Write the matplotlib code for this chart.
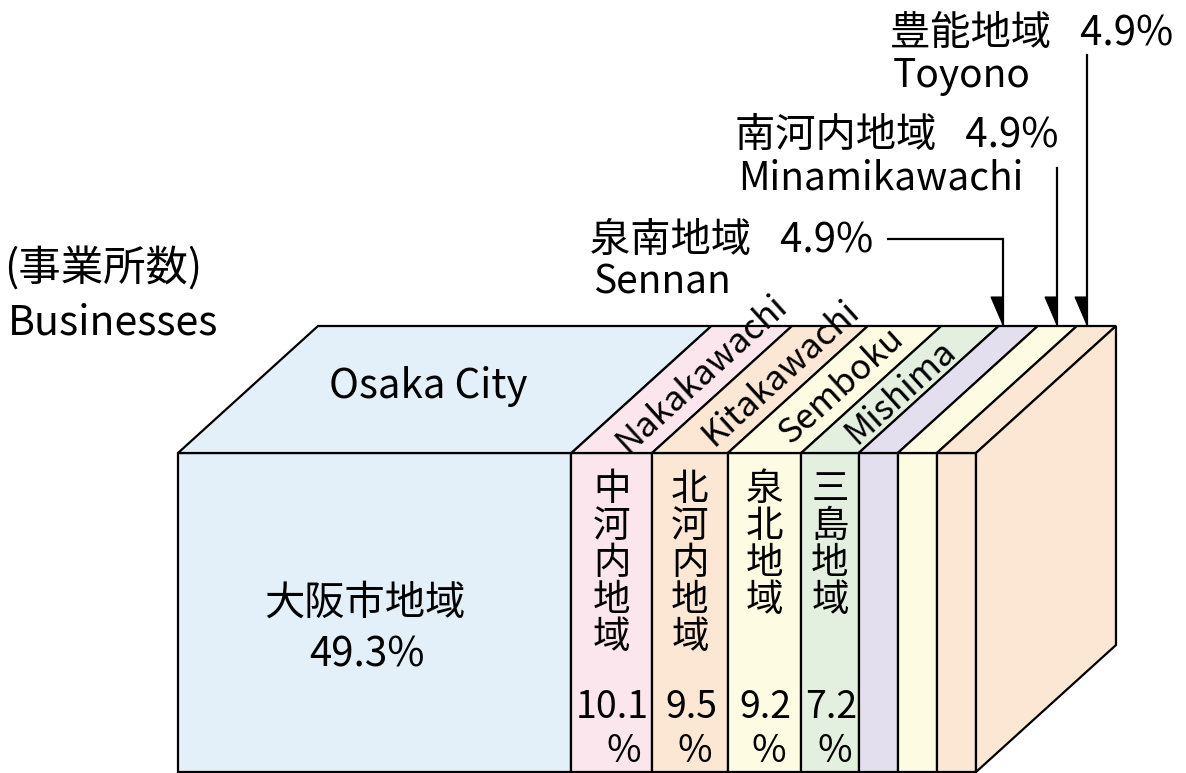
import matplotlib
matplotlib.use('Agg')
import matplotlib.pyplot as plt
from matplotlib.patches import Polygon
import numpy as np

plt.rcParams['font.family'] = ['Noto Sans CJK JP', 'DejaVu Sans']

# ---- data ----
regions_ja = ['大阪市地域', '中河内地域', '北河内地域', '泉北地域', '三島地域',
              '泉南地域', '南河内地域', '豊能地域']
regions_en = ['Osaka City', 'Nakakawachi', 'Kitakawachi', 'Semboku', 'Mishima',
              'Sennan', 'Minamikawachi', 'Toyono']
shares = [49.3, 10.1, 9.5, 9.2, 7.2, 4.9, 4.9, 4.9]
share_labels = ['49.3%', '10.1\n%', '9.5\n%', '9.2\n%', '7.2\n%', '4.9%', '4.9%', '4.9%']
colors = ['#E3F0FA', '#FCE6EE', '#FCE6D4', '#FEFBE3', '#E3F0DF',
          '#E3DFEE', '#FEFBE3', '#FCE6D4']
unit_ja = '(事業所数)'
unit_en = 'Businesses'

# ---- canvas ----
W, H = 1186, 773
fig = plt.figure(figsize=(W / 100, H / 100), dpi=100)
ax = fig.add_axes([0, 0, 1, 1])
ax.set_xlim(0, W)
ax.set_ylim(H, 0)
ax.axis('off')

# box geometry (pixel space)
x0, x1 = 178, 976
y_top, y_bot = 453, 772
dx, dy = 140, -127
lw = 1.6
scale = (x1 - x0) / sum(shares)
edges = x0 + scale * np.concatenate([[0], np.cumsum(shares)])
centers = (edges[:-1] + edges[1:]) / 2

for i, c in enumerate(colors):
    l, r = edges[i], edges[i + 1]
    ax.add_patch(Polygon([(l, y_top), (r, y_top), (r, y_bot), (l, y_bot)],
                         closed=True, fc=c, ec='black', lw=lw, joinstyle='miter'))
    ax.add_patch(Polygon([(l, y_top), (r, y_top), (r + dx, y_top + dy), (l + dx, y_top + dy)],
                         closed=True, fc=c, ec='black', lw=lw, joinstyle='miter'))
# right side face
ax.add_patch(Polygon([(x1, y_top), (x1 + dx, y_top + dy), (x1 + dx, y_bot + dy), (x1, y_bot)],
                     closed=True, fc=colors[-1], ec='black', lw=lw, joinstyle='miter'))

# ---- labels ----
ax.text(4, 270, unit_ja, fontsize=30.5, ha='left', va='center')
ax.text(8, 323, unit_en, fontsize=29.5, ha='left', va='center')

# Osaka City
ax.text(centers[0] + 0.38 * dx, y_top + 0.52 * dy, regions_en[0], fontsize=29,
        ha='center', va='center')
ax.text(centers[0] - 10, 603, regions_ja[0], fontsize=29, ha='center', va='center')
ax.text(centers[0] - 8, 655, share_labels[0], fontsize=29, ha='center', va='center')

# slanted english labels on top face
angle = np.degrees(np.arctan2(-dy, dx))
t_pos = [0.62, 0.63, 0.53, 0.48]
for k, t in zip(range(1, 5), t_pos):
    ax.text(centers[k] + t * dx + 3, y_top + t * dy, regions_en[k], fontsize=25,
            rotation=angle, rotation_mode='anchor', ha='center', va='center')
    # vertical japanese labels
    ax.text(centers[k], 470, '\n'.join(regions_ja[k]), fontsize=27, ha='center',
            va='top', linespacing=0.93)
    num, pct = share_labels[k].split('\n')
    ax.text(centers[k] + 1, 707, num, fontsize=27, ha='center', va='center')
    ax.text(centers[k] + 1 + 0.5 * len(num) * 14, 752, pct, fontsize=27,
            ha='right', va='center')

# callouts for small regions
callouts = [  # (text x, text y) for ja line; en line below
    (590, 240),
    (735, 135),
    (890, 33),
]
arrow_x = [1003, 1057, 1087]
starts = [239, 168, 55]
for k, (tx, ty) in zip(range(5, 8), callouts):
    ax.text(tx, ty, regions_ja[k] + '\u2002 ' + share_labels[k], fontsize=29,
            ha='left', va='center')
    ax.text(tx + 3, ty + 43, regions_en[k], fontsize=28, ha='left', va='center')

# Sennan leader
ax.plot([887, arrow_x[0]], [starts[0], starts[0]], color='black', lw=1.6,
        solid_capstyle='butt')
tip_y = y_top + dy - 1
for axx, sy in zip(arrow_x, starts):
    ax.plot([axx, axx], [sy, tip_y], color='black', lw=1.6, solid_capstyle='projecting')
    ax.add_patch(Polygon([(axx, tip_y), (axx - 12, tip_y - 28), (axx, tip_y - 28)],
                         closed=True, fc='black', ec='black', lw=0.8))

fig.savefig('out.png', dpi=100)
